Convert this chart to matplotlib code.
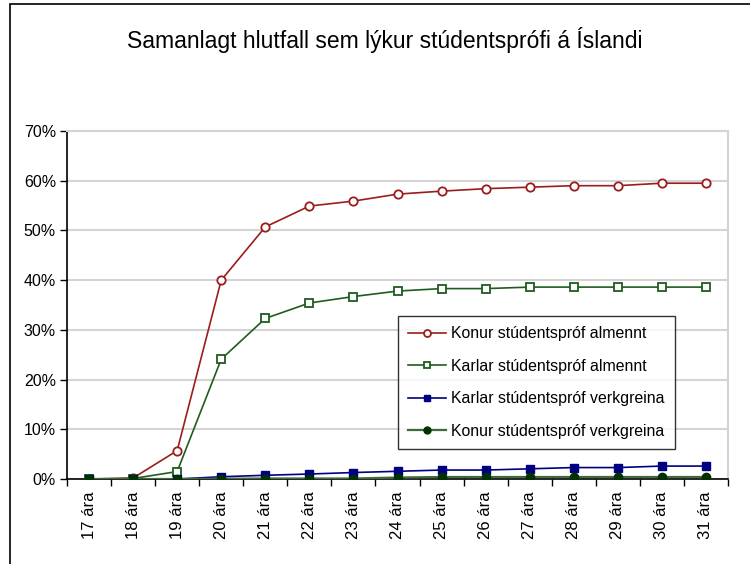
import matplotlib
matplotlib.use("Agg")
import matplotlib.pyplot as plt
from matplotlib.patches import Rectangle
from matplotlib.ticker import FixedLocator, PercentFormatter

plt.rcParams["font.family"] = ["Liberation Sans", "DejaVu Sans"]

ages = ["17 ára", "18 ára", "19 ára", "20 ára", "21 ára", "22 ára", "23 ára", "24 ára",
        "25 ára", "26 ára", "27 ára", "28 ára", "29 ára", "30 ára", "31 ára"]
konur_almennt = [0.0, 0.2, 5.7, 40.0, 50.7, 54.9, 55.9, 57.3, 57.9, 58.4, 58.7, 59.0, 59.0, 59.5, 59.5]
karlar_almennt = [0.0, 0.1, 1.5, 24.1, 32.3, 35.4, 36.7, 37.8, 38.3, 38.3, 38.6, 38.6, 38.6, 38.6, 38.6]
karlar_verkgreina = [0.0, 0.0, 0.0, 0.45, 0.75, 1.0, 1.3, 1.55, 1.8, 1.8, 2.05, 2.3, 2.3, 2.6, 2.6]
konur_verkgreina = [0.0, 0.0, 0.0, 0.05, 0.1, 0.1, 0.1, 0.3, 0.4, 0.4, 0.4, 0.4, 0.4, 0.4, 0.4]

fig = plt.figure(figsize=(7.5, 5.64), dpi=100)
fig.patches.append(Rectangle((10 / 750, -0.1), 1.2, 1 - 4 / 564 + 0.1, transform=fig.transFigure,
                             fill=False, edgecolor="black", linewidth=1.2))
ax = fig.add_axes([67 / 750, 85 / 564, 661 / 750, 348 / 564])

x = list(range(len(ages)))
ax.plot(x, konur_almennt, color="#9B1C1C", lw=1.2, marker="o", ms=6, mfc="white", mec="#9B1C1C",
        mew=1.3, label="Konur stúdentspróf almennt", zorder=4)
ax.plot(x, karlar_almennt, color="#1F5C1F", lw=1.2, marker="s", ms=5.5, mfc="white", mec="#1F5C1F",
        mew=1.3, label="Karlar stúdentspróf almennt", zorder=4)
ax.plot(x, karlar_verkgreina, color="#000080", lw=1.2, marker="s", ms=6, mfc="#000080", mec="#000080",
        label="Karlar stúdentspróf verkgreina", zorder=5)
ax.plot(x, konur_verkgreina, color="#3E6B3E", lw=1.6, marker="o", ms=6, mfc="#003300", mec="#003300",
        label="Konur stúdentspróf verkgreina", zorder=6)

ax.set_xlim(-0.5, len(ages) - 0.5)
ax.set_ylim(0, 70)
ax.yaxis.set_major_locator(FixedLocator(range(0, 71, 10)))
ax.yaxis.set_major_formatter(PercentFormatter(decimals=0))
ax.grid(axis="y", color="#D4D4D4", lw=1.5)
ax.set_axisbelow(True)

ax.set_xticks(x)
ax.set_xticklabels(ages, rotation=90, fontsize=12)
ax.tick_params(axis="x", which="major", length=0, pad=9)
ax.set_xticks([i - 0.5 for i in range(len(ages) + 1)], minor=True)
ax.tick_params(axis="x", which="minor", length=5, width=1, direction="out")
ax.tick_params(axis="y", labelsize=11.5, length=5, width=1, direction="out", pad=3)

for side in ["top", "right"]:
    ax.spines[side].set_color("#D4D4D4")
    ax.spines[side].set_linewidth(1.5)
ax.spines["left"].set_linewidth(1.2)
ax.spines["bottom"].set_linewidth(1.2)

fig.text(385 / 750, 1 - 40 / 564, "Samanlagt hlutfall sem lýkur stúdentsprófi á Íslandi",
         ha="center", va="center", fontsize=16.5)

leg = ax.legend(loc="upper left", bbox_to_anchor=((398 - 67) / 661, (479 - 316) / 348),
                fontsize=11.4, frameon=True, fancybox=False, shadow=False, handlelength=2.4,
                handletextpad=0.3, labelspacing=1.1, borderpad=0.65, borderaxespad=0)
leg.get_frame().set_edgecolor("black")
leg.get_frame().set_linewidth(1)
for line in leg.get_lines():
    line.set_markersize(5)

fig.savefig("out.png", dpi=100)
